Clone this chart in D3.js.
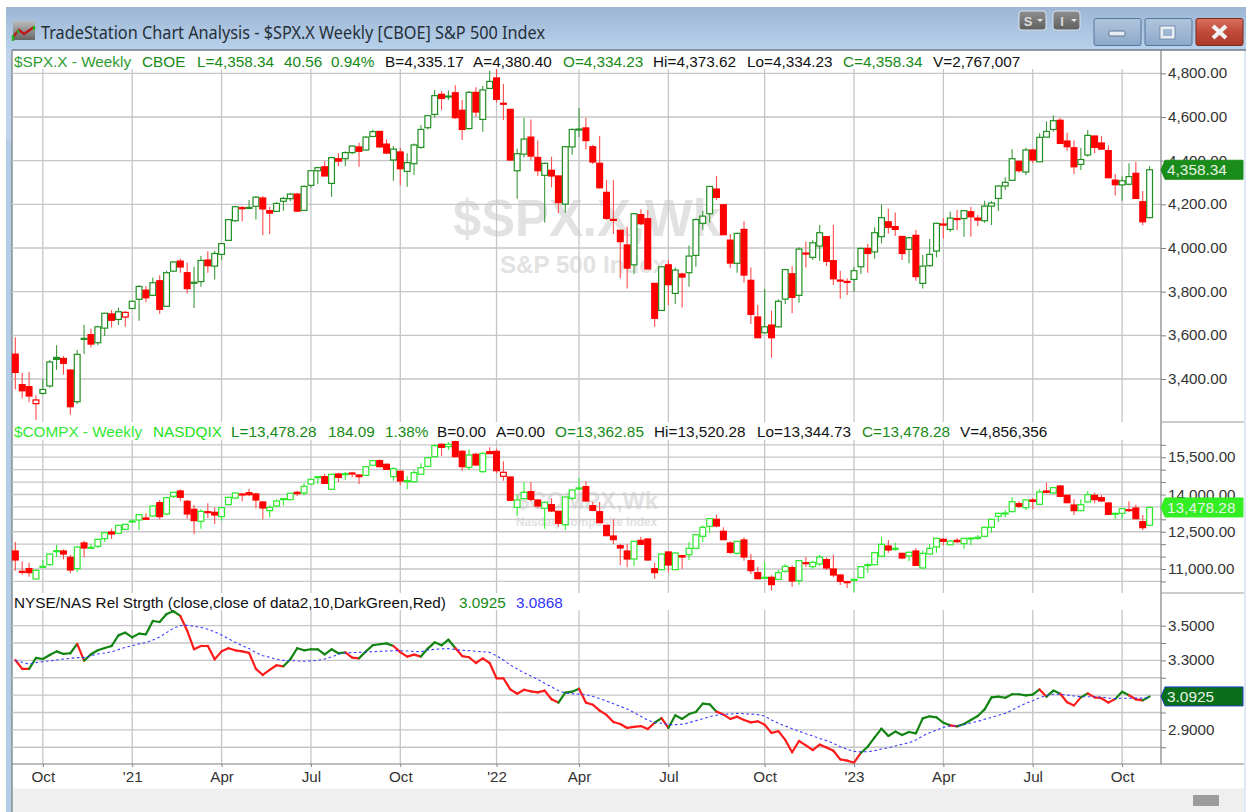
<!DOCTYPE html>
<html>
<head>
<meta charset="utf-8">
<script src="https://cdn.jsdelivr.net/npm/d3@7/dist/d3.min.js"></script>
<style>
html,body{margin:0;padding:0;background:#fff;overflow:hidden}
svg{display:block}
text{font-family:"Liberation Sans",Arial,sans-serif}
</style>
</head>
<body>
<div id="chart"></div>
<script>
// ---------- DATA ----------
const spxOpen=[3514,3374,3365,3287,3334,3368,3499,3494,3441,3296,3585,3603,3566,3633,3698,3673,3684,3723,3765,3807,3783,3850,3733,3894,3940,3887,3840,3846,3945,3917,3971,4035,4125,4180,4182,4191,4229,4171,4168,4214,4226,4247,4172,4287,4354,4372,4296,4409,4409,4437,4463,4449,4511,4534,4476,4403,4440,4351,4386,4461,4551,4612,4704,4693,4711,4631,4547,4713,4589,4731,4779,4660,4635,4354,4430,4508,4415,4333,4356,4330,4201,4463,4543,4550,4464,4388,4255,4128,4081,4014,3923,4153,4134,3838,3714,3923,3792,3881,3887,3966,4113,4157,4270,4198,4036,3930,4085,3852,3684,3612,3647,3639,3766,3882,3783,3972,3957,4009,4052,3942,3849,3844,3856,3914,3998,3982,4052,4120,4098,4053,3994,4058,3838,3919,3986,4105,4085,4134,4135,4166,4137,4125,4192,4227,4284,4310,4397,4348,4449,4395,4508,4543,4585,4490,4459,4383,4426,4513,4481,4446,4311,4289,4292,4342,4212,4139];
const spxHigh=[3591,3429,3433,3325,3401,3487,3554,3505,3443,3533,3649,3630,3644,3704,3716,3728,3711,3759,3829,3826,3865,3875,3896,3939,3951,3933,3914,3963,3985,3988,4023,4133,4194,4192,4220,4238,4238,4189,4211,4235,4253,4253,4287,4357,4372,4397,4418,4434,4443,4470,4482,4513,4543,4536,4498,4467,4459,4434,4479,4563,4609,4724,4718,4721,4745,4678,4718,4736,4742,4812,4820,4751,4637,4455,4595,4589,4492,4391,4418,4332,4467,4547,4641,4595,4473,4513,4311,4311,4082,4098,4162,4177,4174,3840,3916,3945,3911,3887,4011,4136,4171,4285,4330,4201,4064,4070,4122,3911,3739,3812,3713,3765,3905,3917,4003,4030,4036,4105,4055,4105,3896,3861,3914,4003,4018,4095,4200,4180,4163,4055,4052,4082,3968,4041,4116,4136,4166,4174,4174,4189,4151,4217,4215,4288,4324,4452,4400,4459,4455,4525,4580,4608,4595,4528,4492,4459,4540,4515,4513,4469,4339,4327,4388,4395,4261,4375];
const spxLow=[3352,3311,3294,3212,3328,3360,3441,3420,3236,3285,3514,3545,3555,3597,3636,3649,3639,3722,3667,3752,3780,3698,3731,3890,3887,3792,3725,3823,3887,3856,3945,4033,4120,4122,4177,4131,4059,4064,4165,4171,4214,4166,4171,4276,4293,4327,4235,4375,4375,4430,4372,4446,4510,4459,4430,4308,4288,4281,4334,4455,4543,4597,4632,4678,4591,4495,4543,4601,4533,4730,4666,4586,4400,4226,4415,4400,4330,4117,4278,4159,4162,4427,4507,4452,4385,4272,4128,4064,3861,3814,3881,4105,3902,3639,3713,3739,3743,3728,3823,3914,4082,4116,4220,4059,3907,3887,3841,3652,3588,3609,3497,3636,3743,3701,3749,3911,3945,3942,3917,3830,3768,3785,3800,3881,3887,3951,4021,4067,4055,3945,3930,3850,3814,3914,3957,4044,4075,4082,4052,4052,4101,4116,4105,4169,4266,4307,4345,4333,4388,4394,4507,4534,4478,4446,4339,4357,4418,4434,4452,4320,4240,4217,4288,4225,4104,4136];
const spxClose=[3430,3346,3322,3304,3352,3478,3490,3472,3273,3513,3586,3560,3639,3701,3669,3708,3705,3756,3824,3772,3841,3719,3887,3936,3913,3814,3843,3943,3919,3975,4020,4130,4189,4185,4186,4233,4179,4160,4204,4227,4247,4169,4282,4354,4368,4330,4414,4398,4437,4467,4443,4508,4533,4463,4435,4453,4363,4391,4472,4543,4606,4698,4685,4696,4597,4543,4713,4623,4724,4763,4681,4663,4403,4432,4499,4421,4354,4388,4330,4208,4464,4543,4545,4492,4394,4276,4136,4131,4029,3908,4157,4111,3904,3678,3914,3832,3899,3867,3963,4130,4146,4282,4232,4061,3931,4067,3876,3696,3589,3639,3589,3756,3901,3774,3995,3977,4024,4070,3939,3859,3853,3847,3896,3998,3975,4070,4139,4095,4085,3975,4047,3869,3917,3971,4113,4110,4137,4135,4171,4143,4128,4192,4206,4284,4301,4409,4354,4449,4403,4507,4534,4583,4479,4464,4372,4405,4516,4461,4453,4322,4290,4308,4327,4227,4120,4358.34];

const compxOpen=[11725,10879,11014,10598,11081,11175,11712,11725,11470,11014,12047,11846,11913,12221,12490,12436,12597,12906,12973,13054,13134,13671,13215,13926,14141,13725,13402,12919,13282,13282,13107,13590,13859,13993,14073,14020,13698,13349,13537,13805,13792,14087,14060,14422,14691,14718,14208,14825,14798,14865,14785,14771,15174,15362,15214,14718,14932,14530,14516,14812,15134,15523,16019,15925,16127,15738,15093,15617,14919,15724,15738,14731,14704,13483,13832,14114,13778,13443,13590,13322,12785,13845,14234,14315,13550,13308,12758,12329,11940,11725,11403,12154,12208,11014,10973,11685,10973,11537,11577,11832,12315,12718,13000,12517,12047,11631,12168,11336,10853,10638,10665,10584,10906,11054,10531,11215,11094,11202,11376,11000,10759,10463,10557,10651,11148,11175,11510,11926,11805,11631,11524,11725,11041,11604,11886,12195,11980,12154,12020,12221,12248,12315,12678,13121,13228,13308,13631,13470,13778,13604,14141,14060,14342,13966,13577,13349,13698,13966,13872,13657,13215,13241,13362,13456,12906,12758];
const compxHigh=[12087,11309,11255,10973,11363,11631,11980,11792,11577,11926,12141,12007,12221,12490,12624,12785,12825,13000,13215,13241,13577,13778,13886,14114,14208,13778,13577,13402,13644,13483,13483,13912,14087,14047,14234,14073,13725,13563,13805,13859,14073,14154,14449,14637,14744,14825,14838,14879,14905,14919,14798,15147,15389,15415,15254,15093,14986,14744,14986,15254,15523,16033,16060,16100,16167,15791,15818,15684,15697,15899,15845,15335,14718,13993,14503,14503,13805,13725,13845,13349,13912,14208,14664,14530,13698,13698,12772,13000,12007,12007,12141,12302,12235,11255,11631,11711,11671,11577,12087,12409,12758,13054,13188,12678,12114,12141,12275,11604,11094,11269,10745,10960,11202,11148,11363,11497,11336,11577,11470,11577,10786,10504,10598,11121,11229,11685,12302,12168,12060,11658,11711,11846,11738,12007,12262,12248,12168,12248,12262,12262,12369,12705,13027,13268,13376,13886,13725,13805,13859,14208,14476,14315,14369,13993,13805,13805,14141,14073,13980,13698,13268,13456,13725,13590,13174,13510];
const compxLow=[10933,10772,10692,10584,11067,11148,11497,11389,10826,10879,11470,11792,11846,12087,12221,12409,12570,12866,12570,12973,13107,13000,13161,13859,13725,13027,12409,12624,13054,12812,12946,13563,13805,13725,13939,13443,13000,13080,13483,13563,13765,13939,13966,14396,14422,14422,14194,14503,14583,14691,14422,14744,15147,15093,14986,14557,14369,14208,14476,14785,15093,15496,15550,15791,15496,14959,14986,15147,14879,15630,14852,14557,13751,13134,13805,13725,13456,12624,13295,12705,12570,13778,14181,13711,13322,12839,12329,12007,11148,11067,11121,11966,11336,10611,10960,10866,10960,11014,11363,11792,12087,12463,12678,12168,11604,11577,11336,10799,10598,10611,10128,10557,10853,10289,10370,11094,11014,11121,10960,10665,10356,10235,10088,10638,10853,11148,11470,11658,11738,11389,11309,11121,11027,11577,11658,11953,11953,12034,11819,11953,12168,12275,12463,12892,13080,13295,13456,13376,13402,13590,14047,14020,13886,13644,13174,13322,13671,13644,13698,13188,13000,13013,13295,13000,12570,12731];
const compxClose=[11363,10906,10853,10947,11108,11604,11738,11604,10960,11886,11846,11873,12195,12463,12409,12758,12799,12933,13188,13000,13537,13107,13872,14087,13886,13215,12946,13322,13308,13174,13470,13886,14060,14020,13993,13778,13456,13483,13738,13832,14047,14033,14328,14610,14718,14449,14812,14691,14838,14825,14718,15120,15362,15120,15013,15040,14543,14557,14879,15080,15483,15966,15899,16019,15523,15120,15590,15187,15657,15644,14959,14892,13765,13778,14087,13805,13537,13684,13335,12839,13899,14181,14261,13738,13362,12866,12342,12181,11846,11403,12114,11993,11363,10853,11604,11161,11644,11483,11832,12383,12678,13027,12731,12181,11671,12114,11483,10933,10611,10665,10370,10853,11108,10517,11336,11255,11269,11483,11041,10759,10504,10490,10584,11094,11175,11658,11993,11765,11832,11443,11671,11148,11631,11832,12235,12114,12128,12101,12235,12248,12275,12678,13000,13241,13255,13711,13523,13778,13725,14100,14087,14275,13926,13671,13349,13590,13993,13792,13738,13201,13241,13429,13389,13027,12664,13478.28];

const relStrength=[3.302,3.251,3.251,3.314,3.308,3.331,3.352,3.337,3.341,3.395,3.299,3.335,3.358,3.371,3.383,3.444,3.460,3.433,3.454,3.450,3.527,3.521,3.567,3.583,3.556,3.471,3.364,3.383,3.383,3.306,3.352,3.370,3.358,3.352,3.343,3.251,3.216,3.245,3.272,3.266,3.306,3.370,3.358,3.364,3.364,3.335,3.364,3.341,3.346,3.316,3.312,3.352,3.387,3.393,3.398,3.383,3.348,3.322,3.333,3.322,3.368,3.404,3.387,3.419,3.371,3.325,3.318,3.285,3.312,3.285,3.197,3.197,3.133,3.108,3.131,3.122,3.116,3.126,3.076,3.057,3.114,3.120,3.137,3.057,3.045,3.011,2.986,2.945,2.934,2.911,2.917,2.922,2.905,2.941,2.968,2.911,2.984,2.963,2.991,3.003,3.051,3.047,3.005,2.988,2.963,2.976,2.957,2.943,2.949,2.930,2.882,2.893,2.842,2.771,2.836,2.811,2.784,2.815,2.799,2.780,2.730,2.723,2.711,2.767,2.803,2.857,2.907,2.865,2.890,2.870,2.888,2.880,2.966,2.978,2.972,2.941,2.926,2.920,2.934,2.957,2.980,3.018,3.087,3.091,3.085,3.105,3.105,3.099,3.103,3.133,3.091,3.126,3.108,3.059,3.041,3.087,3.110,3.087,3.082,3.057,3.078,3.120,3.099,3.076,3.070,3.0925];
const relStrengthAvg=[3.299,3.289,3.279,3.287,3.293,3.297,3.302,3.308,3.312,3.316,3.316,3.327,3.337,3.343,3.350,3.362,3.375,3.385,3.395,3.402,3.417,3.435,3.460,3.485,3.500,3.502,3.496,3.490,3.479,3.464,3.446,3.425,3.404,3.385,3.368,3.345,3.327,3.318,3.306,3.300,3.299,3.297,3.295,3.297,3.300,3.308,3.320,3.335,3.343,3.345,3.346,3.348,3.350,3.352,3.354,3.356,3.356,3.354,3.352,3.350,3.360,3.364,3.366,3.368,3.362,3.358,3.356,3.352,3.350,3.346,3.327,3.302,3.273,3.251,3.229,3.210,3.191,3.168,3.147,3.126,3.112,3.108,3.106,3.103,3.093,3.080,3.066,3.051,3.035,3.020,2.999,2.978,2.955,2.943,2.938,2.930,2.930,2.932,2.941,2.953,2.964,2.976,2.984,2.989,2.991,2.995,2.993,2.991,2.988,2.980,2.957,2.938,2.922,2.907,2.892,2.878,2.865,2.851,2.838,2.822,2.803,2.788,2.776,2.774,2.774,2.780,2.790,2.797,2.807,2.817,2.826,2.842,2.865,2.884,2.899,2.915,2.922,2.922,2.930,2.940,2.949,2.961,2.972,2.984,2.995,3.014,3.034,3.053,3.068,3.085,3.099,3.105,3.105,3.101,3.095,3.091,3.091,3.091,3.089,3.083,3.080,3.082,3.082,3.083,3.083,3.0868];

const timeTickBars=[4,17,30,43,56,70,82,95,109,122,135,148,161];
const timeTickLabels=["Oct","'21","Apr","Jul","Oct","'22","Apr","Jul","Oct","'23","Apr","Jul","Oct"];
const spxGrid=[3400,3600,3800,4000,4200,4400,4600,4800];
const compxGrid=[10500,11000,11500,12000,12500,13000,13500,14000,14500,15000,15500,16000];
const compxLabelled=[11000,12500,14000,15500];
const rsGrid=[2.8,2.9,3.0,3.1,3.2,3.3,3.4,3.5];
const rsLabelled=[2.9,3.3,3.5];

const titleText="TradeStation Chart Analysis - $SPX.X Weekly [CBOE] S&P 500 Index";
const spxHeader=[["$SPX.X - Weekly",14,"#2f9a2f"],["CBOE",142,"#168a16"],["L=4,358.34",197,"#168a16"],["40.56",284,"#168a16"],["0.94%",331,"#168a16"],["B=4,335.17",385,"#111"],["A=4,380.40",473,"#111"],["O=4,334.23",563,"#168a16"],["Hi=4,373.62",653,"#111"],["Lo=4,334.23",747,"#111"],["C=4,358.34",843,"#168a16"],["V=2,767,007",933,"#111"]];
const compxHeader=[["$COMPX - Weekly",14,"#33e833"],["NASDQIX",153,"#22e022"],["L=13,478.28",231,"#168a16"],["184.09",328,"#168a16"],["1.38%",385,"#168a16"],["B=0.00",437,"#111"],["A=0.00",496,"#111"],["O=13,362.85",555,"#168a16"],["Hi=13,520.28",654,"#111"],["Lo=13,344.73",757,"#111"],["C=13,478.28",862,"#168a16"],["V=4,856,356",960,"#111"]];
const rsHeader=[["NYSE/NAS Rel Strgth (close,close of data2,10,DarkGreen,Red)",14,"#111"],["3.0925",459,"#168a16"],["3.0868",516,"#3333ff"]];

// ---------- LAYOUT ----------
const W=1249,H=812,left=12,axisX=1161,winRight=1244;
const svg=d3.select("#chart").append("svg").attr("width",W).attr("height",H);
const defs=svg.append("defs");
function grad(id,stops){const g=defs.append("linearGradient").attr("id",id).attr("x1",0).attr("y1",0).attr("x2",0).attr("y2",1);
  stops.forEach(s=>g.append("stop").attr("offset",s[0]).attr("stop-color",s[1]));}
grad("bar",[[0,"#9db6d4"],[1,"#b8d2ec"]]);
grad("btn",[[0,"#b0c4dc"],[0.5,"#a0b8d4"],[1,"#8ba8ca"]]);
grad("cls",[[0,"#d9705f"],[0.5,"#c04a3a"],[1,"#ac3a28"]]);
grad("gbtn",[[0,"#8f8f8f"],[1,"#5f5f5f"]]);
grad("ico",[[0,"#bbbbbb"],[1,"#666666"]]);

const x=d3.scaleLinear().domain([0,165]).range([15.33,1149.6]);
const panels=[
 {top:50,bottom:422,vtop:69},
 {top:422,bottom:593,vtop:440},
 {top:593,bottom:764,vtop:610}
];
const ySpx=d3.scaleLinear().domain([3203,4907]).range([422,50]);
const yComp=d3.scaleLinear().domain([10034,16918]).range([593,422]);
const yRs=d3.scaleLinear().domain([2.7035,3.688]).range([764,593]);

// window chrome
svg.append("rect").attr("x",6).attr("y",7).attr("width",1240).attr("height",805).attr("fill","#b3cde8");
svg.append("rect").attr("x",6).attr("y",7).attr("width",1240).attr("height",43).attr("fill","url(#bar)");
svg.append("rect").attr("x",6).attr("y",50).attr("width",6).attr("height",90).attr("fill","#bdd4ec");
svg.append("rect").attr("x",winRight).attr("y",50).attr("width",2).attr("height",762).attr("fill","#dfe9f5");
svg.append("rect").attr("x",left).attr("y",50).attr("width",winRight-left).attr("height",762).attr("fill","#fff");
svg.append("rect").attr("x",left).attr("y",788.5).attr("width",winRight-left).attr("height",24).attr("fill","#efefef");
svg.append("rect").attr("x",1193).attr("y",795).attr("width",26).attr("height",11).attr("fill","#9c9c9c");
svg.append("line").attr("x1",left).attr("x2",winRight+2).attr("y1",50).attr("y2",50).attr("stroke","#6f7a85").attr("stroke-width",1.5);
svg.append("line").attr("x1",left).attr("x2",left).attr("y1",50).attr("y2",812).attr("stroke","#8a8f96").attr("stroke-width",1.5);

// title and icon
svg.append("rect").attr("x",13).attr("y",21).attr("width",22).attr("height",19).attr("fill","url(#ico)");
svg.append("path").attr("d","M13 37 L19 30 L24 34 L34 27").attr("fill","none").attr("stroke","#c01818").attr("stroke-width",2.4);
svg.append("path").attr("d","M13 41 L13 35 M18 33 L18 30 M34 30 L34 26").attr("fill","none").attr("stroke","#22b522").attr("stroke-width",2.4);
svg.append("text").text(titleText).attr("x",41).attr("y",39).attr("font-size",18).attr("fill","#26303a")
  .style("font-family","'Noto Sans','Open Sans',sans-serif").attr("textLength",504).attr("lengthAdjust","spacingAndGlyphs");

// small S / I buttons
[[1019,"S"],[1053,"I"]].forEach(b=>{
  svg.append("rect").attr("x",b[0]).attr("y",11).attr("width",27).attr("height",19).attr("rx",3).attr("fill","url(#gbtn)").attr("stroke","#d8e2ee");
  svg.append("text").text(b[1]).attr("x",b[0]+9).attr("y",25.5).attr("text-anchor","middle").attr("font-size",13).attr("font-weight","bold").attr("fill","#dcdcdc");
  svg.append("path").attr("d",`M${b[0]+18} 19 h6 l-3 3 z`).attr("fill","#e8e8e8");
});
// window buttons
[[1094,"btn"],[1145,"btn"],[1196,"cls"]].forEach(b=>{
  svg.append("rect").attr("x",b[0]).attr("y",18.5).attr("width",47).attr("height",27).attr("rx",2).attr("fill",`url(#${b[1]})`).attr("stroke",b[1]==="cls"?"#7d2a20":"#56779c");
});
svg.append("rect").attr("x",1109).attr("y",31).attr("width",16).attr("height",5).attr("rx",1).attr("fill","#e8edf3").attr("stroke","#5c7590");
svg.append("rect").attr("x",1161.5).attr("y",27.5).attr("width",12).attr("height",10).attr("fill","none").attr("stroke","#e9eef4").attr("stroke-width",3);
svg.append("rect").attr("x",1160).attr("y",26).attr("width",15).attr("height",13).attr("fill","none").attr("stroke","#5c7590").attr("stroke-width",.7);
svg.append("path").attr("d","M1213 26 L1226 38 M1226 26 L1213 38").attr("stroke","#f2f2f2").attr("stroke-width",4.2);

const root=svg.append("g");

// watermarks (behind everything)
function wm(t,x0,y0,size,len){root.append("text").text(t).attr("x",x0).attr("y",y0).attr("font-size",size).attr("font-weight","bold").attr("fill","#e2e2e2").attr("textLength",len).attr("lengthAdjust","spacingAndGlyphs");}
wm("$SPX.X,Wk",453,236,52,268);
wm("S&P 500 Index",500,273,24,166);
wm("$COMPX,Wk",516,509,24,142);
wm("Nasdaq Composite Index",516,526,12.5,141);

// grid
const gridColor="#c6c6c6";
function hGrid(vals,scale){
  root.append("g").selectAll("line").data(vals).join("line")
    .attr("x1",left).attr("x2",axisX).attr("y1",d=>scale(d)).attr("y2",d=>scale(d))
    .attr("stroke",gridColor).attr("stroke-width",1.3);
}
hGrid(spxGrid,ySpx);hGrid(compxGrid,yComp);hGrid(rsGrid,yRs);
panels.forEach(p=>{
  root.append("g").selectAll("line").data(timeTickBars).join("line")
    .attr("x1",d=>x(d)).attr("x2",d=>x(d)).attr("y1",p.vtop).attr("y2",p.bottom)
    .attr("stroke",gridColor).attr("stroke-width",1.3);
});

// candles
function candles(o,h,l,c,y,green,wickGreen){
  const data=o.map((_,i)=>({i,o:o[i],h:h[i],l:l[i],c:c[i],up:i===0?c[i]>=o[i]:c[i]>=c[i-1]}));
  const g=root.append("g");
  g.selectAll("line").data(data).join("line")
    .attr("x1",d=>x(d.i)).attr("x2",d=>x(d.i)).attr("y1",d=>y(d.h)).attr("y2",d=>y(d.l))
    .attr("stroke",d=>d.up?wickGreen:"#ff4d4d").attr("stroke-width",1.1);
  g.selectAll("rect").data(data).join("rect")
    .attr("x",d=>x(d.i)-2.9).attr("width",5.8)
    .attr("y",d=>y(Math.max(d.o,d.c)))
    .attr("height",d=>Math.max(1,Math.abs(y(d.o)-y(d.c))))
    .attr("fill",d=>d.c>d.o?"#fff":(d.up?green:"#ff0000"))
    .attr("stroke",d=>d.up?green:"#ff0000").attr("stroke-width",1.2);
}
candles(spxOpen,spxHigh,spxLow,spxClose,ySpx,"#1f8f1f","#3d9a3d");
candles(compxOpen,compxHigh,compxLow,compxClose,yComp,"#2bea2b","#33ee33");

// relative strength line, one segment per week, coloured by strength vs its average
const pts=relStrength.map((v,i)=>({i,v,a:relStrengthAvg[i]}));
const seg=d3.line().x(d=>x(d.i)).y(d=>yRs(d.v));
root.append("g").selectAll("path").data(d3.pairs(pts)).join("path")
  .attr("d",d=>seg(d)).attr("fill","none")
  .attr("stroke",d=>d[1].v>=d[1].a?"#128412":"#ff1a1a")
  .attr("stroke-width",2.2).attr("stroke-linecap","round");
root.append("path").datum(pts).attr("fill","none")
  .attr("d",d3.line().x(d=>x(d.i)).y(d=>yRs(d.a)))
  .attr("stroke","#3a3aff").attr("stroke-width",1.1).attr("stroke-dasharray","2.6,2.6");

// header bands
function headers(items,yBase){
  root.append("g").selectAll("text").data(items).join("text")
    .text(d=>d[0]).attr("x",d=>d[1]).attr("y",yBase).attr("fill",d=>d[2]).attr("font-size",15.3);
}
headers(spxHeader,66.5);
headers(compxHeader,436.5);
headers(rsHeader,608);

// right axes
function axisStyle(g){
  g.select(".domain").remove();
  g.selectAll("line").attr("stroke","#808080");
  g.selectAll("text").attr("font-size",15.2).attr("fill","#333").attr("dy","0.3em").attr("x",7);
}
const fmtPrice=d3.format(",.2f");
root.append("g").attr("transform",`translate(${axisX},0)`)
  .call(d3.axisRight(ySpx).tickValues(spxGrid).tickSize(5).tickFormat(fmtPrice)).call(axisStyle);
root.append("g").attr("transform",`translate(${axisX},0)`)
  .call(d3.axisRight(yComp).tickValues(compxGrid).tickSize(5).tickFormat(d=>compxLabelled.includes(d)?fmtPrice(d):"")).call(axisStyle);
root.append("g").attr("transform",`translate(${axisX},0)`)
  .call(d3.axisRight(yRs).tickValues(rsGrid).tickSize(5).tickFormat(d=>rsLabelled.includes(d)?d3.format(".4f")(d):"")).call(axisStyle);
root.append("line").attr("x1",axisX).attr("x2",axisX).attr("y1",50).attr("y2",764).attr("stroke","#808080").attr("stroke-width",1.2);
[422,593].forEach(yy=>root.append("line").attr("x1",axisX).attr("x2",winRight).attr("y1",yy).attr("y2",yy).attr("stroke","#9a9a9a"));
root.append("line").attr("x1",left).attr("x2",winRight).attr("y1",764).attr("y2",764).attr("stroke","#808080").attr("stroke-width",1.2);

// time axis
const timeAxis=d3.axisBottom(x).tickValues(timeTickBars).tickSize(3).tickFormat((d,i)=>timeTickLabels[i]);
root.append("g").attr("transform","translate(0,764)").call(timeAxis).call(g=>{
  g.select(".domain").remove();
  g.selectAll("line").attr("stroke","#808080");
  g.selectAll("text").attr("font-size",15.2).attr("fill","#333").attr("y",7).attr("dy","0.71em");
});

// last value tags
function tag(v,y,fill,label,edge){
  const c=y(v);
  root.append("path").attr("d",`M${axisX} ${c} L${axisX+4} ${c-9.5} H${winRight-1} V${c+9.5} H${axisX+4} Z`)
    .attr("fill",fill).attr("stroke",edge||fill);
  root.append("text").text(label).attr("x",axisX+6).attr("y",c).attr("dy","0.33em").attr("font-size",15.4).attr("fill","#e6f2e6");
}
const lastOf=a=>a[a.length-1];
tag(lastOf(spxClose),ySpx,"#1a8c1a",fmtPrice(lastOf(spxClose)));
tag(lastOf(compxClose),yComp,"#33ee22",fmtPrice(lastOf(compxClose)));
tag(lastOf(relStrength),yRs,"#0a6f1a",d3.format(".4f")(lastOf(relStrength)),"#1d3fc0");
</script>
</body>
</html>
